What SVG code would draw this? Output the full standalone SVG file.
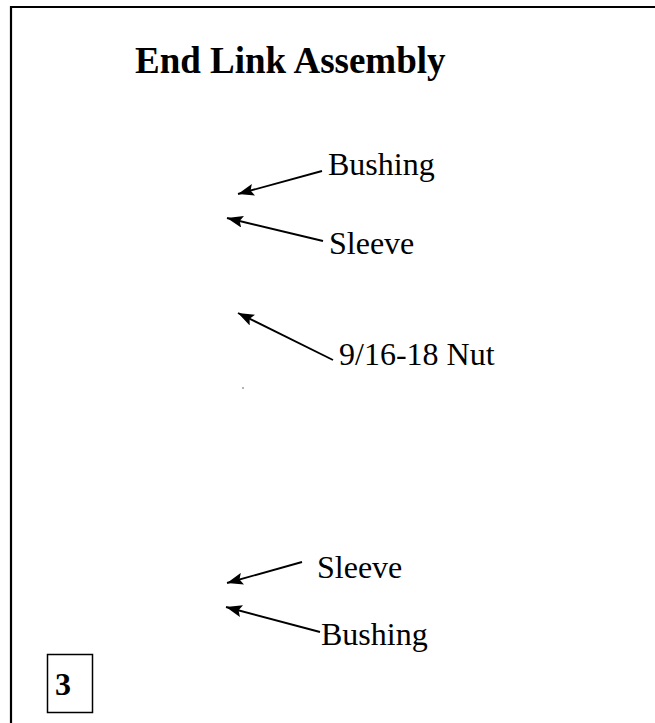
<svg xmlns="http://www.w3.org/2000/svg" width="655" height="723" viewBox="0 0 655 723">
<defs>
<style>
.lbl{font-family:"Liberation Serif","Times New Roman",serif;font-size:32px;fill:#000}
.ttl{font-family:"Liberation Serif","Times New Roman",serif;font-size:37px;font-weight:bold;fill:#000}
.ar{stroke:#000;stroke-width:1.9;fill:none;marker-end:url(#ah)}
</style>
<marker id="ah" viewBox="0 0 16 12" refX="16" refY="6" markerWidth="16" markerHeight="12" markerUnits="userSpaceOnUse" orient="auto">
<path d="M0,0 L16,6 L0,12 L3,6 Z" fill="#000"/>
</marker>
</defs>
<rect width="655" height="723" fill="#fff"/>
<path d="M11,730 L11,7 L660,7" fill="none" stroke="#000" stroke-width="2.2"/>
<g id="title"><text class="ttl" x="135" y="73">End Link Assembly</text></g>
<g id="bushing-top"><text class="lbl" x="328" y="175">Bushing</text></g>
<g id="sleeve-top"><text class="lbl" x="329" y="254">Sleeve</text></g>
<g id="nut"><text class="lbl" x="339" y="365">9/16-18 Nut</text></g>
<g id="sleeve-bottom"><text class="lbl" x="317" y="578">Sleeve</text></g>
<g id="bushing-bottom"><text class="lbl" x="321" y="645">Bushing</text></g>
<g id="page-number">
<rect x="47.5" y="654.5" width="45" height="58" fill="none" stroke="#000" stroke-width="1.5"/>
<text x="55" y="695" style="font-family:'Liberation Serif','Times New Roman',serif;font-size:32px;font-weight:bold">3</text>
</g>
<circle cx="243" cy="388" r="0.8" fill="#555"/>
<g id="connectors">
<line class="ar" x1="322" y1="171" x2="238" y2="194"/>
<line class="ar" x1="323" y1="241" x2="227" y2="218"/>
<line class="ar" x1="333" y1="360" x2="238" y2="313"/>
<line class="ar" x1="302" y1="562" x2="227" y2="583"/>
<line class="ar" x1="320" y1="632" x2="226" y2="607"/>
</g>
</svg>
